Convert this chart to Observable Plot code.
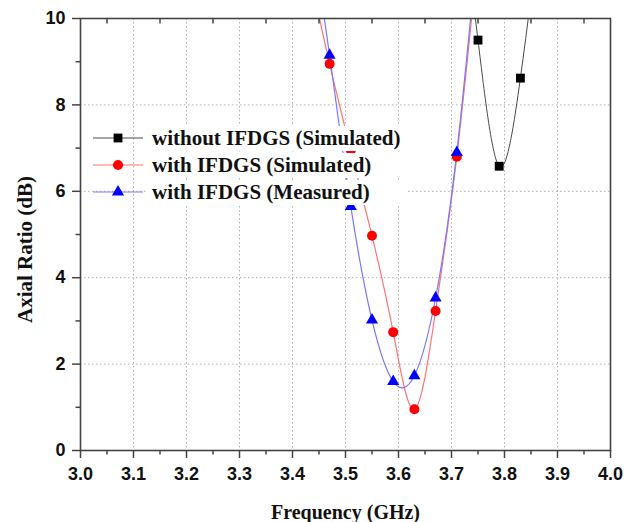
<!DOCTYPE html>
<html>
<head>
<meta charset="utf-8">
<script src="https://cdn.jsdelivr.net/npm/d3@7"></script>
<script src="https://cdn.jsdelivr.net/npm/@observablehq/plot@0.6"></script>
<style>
  html, body { margin: 0; padding: 0; background: #fff; }
  #chart svg { display: block; }
</style>
</head>
<body>
<div id="chart"></div>
<script>
// ---- data ----
const seriesNames = ["without IFDGS (Simulated)", "with IFDGS (Simulated)", "with IFDGS (Measured)"];

const blackFreq = [3.71, 3.75, 3.79, 3.83, 3.87];
const blackAR   = [13.5, 9.5, 6.58, 8.62, 12.5];

const redFreq = [3.43, 3.47, 3.51, 3.55, 3.59, 3.63, 3.67, 3.71, 3.75];
const redAR   = [11.2, 8.95, 6.95, 4.97, 2.74, 0.955, 3.23, 6.8, 11.5];

const blueFreq = [3.43, 3.47, 3.51, 3.55, 3.59, 3.63, 3.67, 3.71, 3.75];
const blueAR   = [12.6, 9.15, 5.65, 3.02, 1.60, 1.73, 3.53, 6.9, 11.8];

const xTicks = [3.0, 3.1, 3.2, 3.3, 3.4, 3.5, 3.6, 3.7, 3.8, 3.9, 4.0];
const xTickLabels = ["3.0", "3.1", "3.2", "3.3", "3.4", "3.5", "3.6", "3.7", "3.8", "3.9", "4.0"];
const xMinorTicks = [3.05, 3.15, 3.25, 3.35, 3.45, 3.55, 3.65, 3.75, 3.85, 3.95];
const xGrid = [3.1, 3.2, 3.3, 3.4, 3.5, 3.6, 3.7, 3.8, 3.9];
const yTicks = [0, 2, 4, 6, 8, 10];
const yTickLabels = ["0", "2", "4", "6", "8", "10"];
const yMinorTicks = [1, 3, 5, 7, 9];
const yGrid = [2, 4, 6, 8];

const xLabel = "Frequency (GHz)";
const yLabel = "Axial Ratio (dB)";

// ---- build tables ----
const toRows = (xs, ys, s) => xs.map((x, i) => ({freq: x, ar: ys[i], series: s}));
const black = toRows(blackFreq, blackAR, seriesNames[0]);
const red = toRows(redFreq, redAR, seriesNames[1]);
const blue = toRows(blueFreq, blueAR, seriesNames[2]);
const inside = d => d.ar <= 10 && d.ar >= 0;

const lineColors = ["#4a4a4a", "#ff7373", "#7878ff"];
const dotColors = ["#000000", "#ff0000", "#0000ff"];
const symbols = [d3.symbolSquare, d3.symbolCircle, d3.symbolTriangle];
const symbolAreas = [78, 80, 64];

const serif = "'Liberation Serif', 'Times New Roman', serif";
const sans = "'Liberation Sans', Arial, sans-serif";

const legendMark = (index, scales, values, dimensions) => {
  const g = d3.create("svg:g");
  const x0 = dimensions.marginLeft, y0 = dimensions.marginTop;
  seriesNames.forEach((name, i) => {
    const cy = y0 + 120 + i * 27;
    g.append("rect")
      .attr("x", x0 + 68).attr("y", cy - 12)
      .attr("width", 258).attr("height", 25)
      .attr("fill", "white");
    g.append("line")
      .attr("x1", x0 + 13).attr("x2", x0 + 63)
      .attr("y1", cy).attr("y2", cy)
      .attr("stroke", lineColors[i]).attr("stroke-width", 1.2);
    g.append("path")
      .attr("d", d3.symbol(symbols[i], symbolAreas[i])())
      .attr("transform", `translate(${x0 + 38},${cy})`)
      .attr("fill", dotColors[i]);
    g.append("text")
      .attr("x", x0 + 72).attr("y", cy)
      .attr("dy", "0.35em")
      .attr("text-anchor", "start")
      .attr("font-family", serif)
      .attr("font-weight", "bold")
      .attr("font-size", 21)
      .attr("fill", "#111")
      .text(name);
  });
  return g.node();
};

const chart = Plot.plot({
  width: 631,
  height: 522,
  marginLeft: 80,
  marginRight: 21,
  marginTop: 18,
  marginBottom: 72,
  style: {background: "white", color: "#111"},
  x: {domain: [3.0, 4.0]},
  y: {domain: [0, 10]},
  marks: [
    Plot.gridX(xGrid, {stroke: "#b0b0b0", strokeOpacity: 1, strokeDasharray: "1.5,2.5"}),
    Plot.gridY(yGrid, {stroke: "#b0b0b0", strokeOpacity: 1, strokeDasharray: "1.5,2.5"}),
    Plot.line(black, {x: "freq", y: "ar", stroke: lineColors[0], strokeWidth: 1, curve: "natural", clip: true}),
    Plot.line(red, {x: "freq", y: "ar", stroke: lineColors[1], strokeWidth: 1.2, curve: "natural", clip: true}),
    Plot.line(blue, {x: "freq", y: "ar", stroke: lineColors[2], strokeWidth: 1.2, curve: "natural", clip: true}),
    Plot.dot(black.filter(inside), {x: "freq", y: "ar", symbol: "square", r: 5, fill: dotColors[0], stroke: null}),
    Plot.dot(red.filter(inside), {x: "freq", y: "ar", symbol: "circle", r: 5, fill: dotColors[1], stroke: null}),
    Plot.dot(blue.filter(inside), {x: "freq", y: "ar", symbol: "triangle", r: 4.5, fill: dotColors[2], stroke: null}),
    legendMark,
    Plot.frame({stroke: "#444", strokeWidth: 1.6}),
    Plot.axisX({ticks: xTicks, tickFormat: (d, i) => xTickLabels[i], tickSize: 8, tickPadding: 9,
      fontSize: 18, fontWeight: "bold", fontFamily: sans, stroke: "#444", strokeWidth: 1.5, label: null}),
    Plot.axisX({ticks: xMinorTicks, tickSize: 4.5, text: null, stroke: "#444", strokeWidth: 1.5, label: null}),
    Plot.axisX({anchor: "top", ticks: xMinorTicks, tickSize: -4.5, text: null, stroke: "#444", strokeWidth: 1.5, label: null}),
    Plot.axisY({ticks: yTicks, tickFormat: (d, i) => yTickLabels[i], tickSize: 8, tickPadding: 7,
      fontSize: 18, fontWeight: "bold", fontFamily: sans, stroke: "#444", strokeWidth: 1.5, label: null}),
    Plot.axisY({ticks: yMinorTicks, tickSize: 4.5, text: null, stroke: "#444", strokeWidth: 1.5, label: null}),
    Plot.text([xLabel], {frameAnchor: "bottom", dy: 62, lineAnchor: "middle", textAnchor: "middle", text: d => d, fontSize: 20, fontWeight: "bold", fontFamily: serif, fill: "#111"}),
    Plot.text([yLabel], {frameAnchor: "left", dx: -55, dy: 15, rotate: -90, lineAnchor: "middle", textAnchor: "middle", text: d => d, fontSize: 21, fontWeight: "bold", fontFamily: serif, fill: "#111"})
  ]
});

document.getElementById("chart").appendChild(chart);
</script>
</body>
</html>
